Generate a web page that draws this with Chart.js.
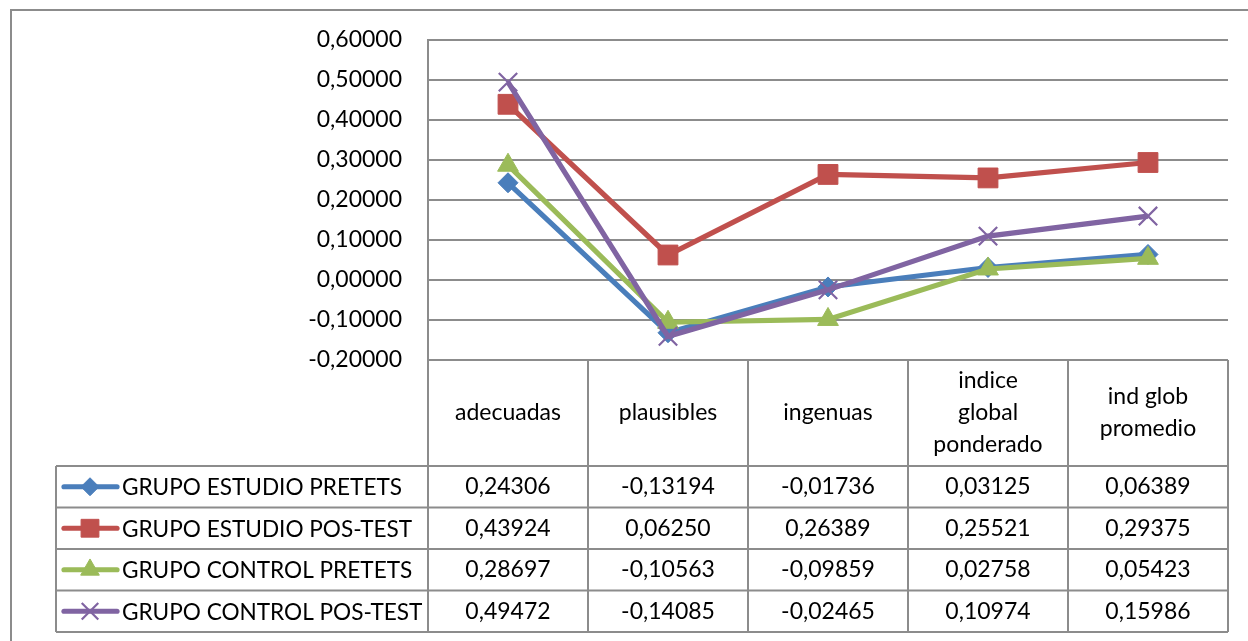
<!DOCTYPE html>
<html>
<head>
<meta charset="utf-8">
<script src="https://cdn.jsdelivr.net/npm/chart.js@4.4.1/dist/chart.umd.min.js"></script>
<style>
  html, body { margin: 0; padding: 0; background: #ffffff; }
  #wrap { width: 1248px; height: 641px; }
</style>
</head>
<body>
<div id="wrap"><canvas id="chart" width="1248" height="641"></canvas></div>
<script>
// Categories (multi-line header labels are arrays of lines)
const categories = [
  'adecuadas',
  'plausibles',
  'ingenuas',
  ['indice', 'global', 'ponderado'],
  ['ind glob', 'promedio']
];

const seriesNames = [
  'GRUPO ESTUDIO PRETETS',
  'GRUPO ESTUDIO POS-TEST',
  'GRUPO CONTROL PRETETS',
  'GRUPO CONTROL POS-TEST'
];

const estudioPretest  = [0.24306, -0.13194, -0.01736, 0.03125, 0.06389];
const estudioPostest  = [0.43924,  0.06250,  0.26389, 0.25521, 0.29375];
const controlPretest  = [0.28697, -0.10563, -0.09859, 0.02758, 0.05423];
const controlPostest  = [0.49472, -0.14085, -0.02465, 0.10974, 0.15986];

const yMin = -0.2;
const yMax = 0.6;
const yStep = 0.1;

const FONT_FAMILY = 'Lato, "Open Sans", sans-serif';
const FONT_SIZE = 23;
const NAME_FONT_SIZE = 22.6;
const GRID_COLOR = '#8c8c8c';
const LINE_WIDTH = 5.2;

function fmt(v) {
  if (Math.abs(v) < 1e-9) v = 0;
  return v.toFixed(5).replace('.', ',');
}

const seriesStyles = [
  { color: '#4a7ebb', pointStyle: 'rectRot',  radius: 10, border: 1,   order: 3 },
  { color: '#c0504d', pointStyle: 'rect',     radius: 14, border: 1,   order: 2 },
  { color: '#9bbb59', pointStyle: 'triangle', radius: 12, border: 1,   order: 1 },
  { color: '#8064a2', pointStyle: 'crossRot', radius: 13, border: 2.2, order: 0 }
];
const seriesValues = [estudioPretest, estudioPostest, controlPretest, controlPostest];

const datasets = seriesValues.map((vals, i) => ({
  label: seriesNames[i],
  data: vals,
  borderColor: seriesStyles[i].color,
  backgroundColor: seriesStyles[i].color,
  borderWidth: LINE_WIDTH,
  pointStyle: seriesStyles[i].pointStyle,
  pointRadius: seriesStyles[i].radius,
  pointHoverRadius: seriesStyles[i].radius,
  pointBorderWidth: seriesStyles[i].border,
  pointBackgroundColor: seriesStyles[i].color,
  pointBorderColor: seriesStyles[i].color,
  tension: 0,
  order: seriesStyles[i].order
}));

// Marker used in the table's legend keys
function drawMarker(ctx, style, x, y, scale) {
  ctx.save();
  ctx.fillStyle = style.color;
  ctx.strokeStyle = style.color;
  ctx.lineWidth = style.border;
  if (Chart.helpers && Chart.helpers.drawPoint) {
    Chart.helpers.drawPoint(ctx, {
      pointStyle: style.pointStyle,
      radius: style.radius * scale,
      rotation: 0,
      borderWidth: style.border
    }, x, y);
  }
  ctx.restore();
}

// Frame around the whole chart
const framePlugin = {
  id: 'frame',
  beforeDraw(chart) {
    const ctx = chart.ctx;
    ctx.save();
    ctx.strokeStyle = '#8c8c8c';
    ctx.lineWidth = 2;
    ctx.strokeRect(11, 10, chart.width + 20, chart.height + 20);
    ctx.restore();
  }
};

// Data table under the plot
const tablePlugin = {
  id: 'dataTable',
  afterDraw(chart) {
    const ctx = chart.ctx;
    const xs = chart.scales.x;
    const area = chart.chartArea;
    const n = categories.length;
    const colW = xs.getPixelForValue(1) - xs.getPixelForValue(0);
    const right = area.right;
    const top = area.bottom;
    const headerH = 106;
    const rowH = 41.5;
    const tableLeft = 56;
    const bottom = top + headerH + rowH * seriesNames.length;

    ctx.save();
    ctx.strokeStyle = GRID_COLOR;
    ctx.lineWidth = 2;

    // vertical column lines
    for (let i = 0; i <= n; i++) {
      const x = i < n ? xs.getPixelForValue(i) - colW / 2 : xs.getPixelForValue(n - 1) + colW / 2;
      ctx.beginPath();
      ctx.moveTo(x, top);
      ctx.lineTo(x, bottom);
      ctx.stroke();
    }
    // left edge of series rows
    ctx.beginPath();
    ctx.moveTo(tableLeft, top + headerH);
    ctx.lineTo(tableLeft, bottom);
    ctx.stroke();
    // horizontal row lines
    for (let r = 0; r <= seriesNames.length; r++) {
      const y = top + headerH + r * rowH;
      ctx.beginPath();
      ctx.moveTo(tableLeft, y);
      ctx.lineTo(right, y);
      ctx.stroke();
    }

    ctx.fillStyle = '#000000';
    ctx.font = FONT_SIZE + 'px ' + FONT_FAMILY;
    ctx.textBaseline = 'middle';
    ctx.textAlign = 'center';

    // header labels
    const lineH = 32;
    categories.forEach((cat, i) => {
      const lines = Array.isArray(cat) ? cat : [cat];
      const cx = xs.getPixelForValue(i);
      const cy = top + headerH / 2;
      lines.forEach((ln, k) => {
        ctx.fillText(ln, cx, cy + (k - (lines.length - 1) / 2) * lineH);
      });
    });

    // series rows
    seriesValues.forEach((vals, r) => {
      const cy = top + headerH + r * rowH + rowH / 2;
      ctx.font = FONT_SIZE + 'px ' + FONT_FAMILY;
      vals.forEach((v, i) => {
        ctx.textAlign = 'center';
        ctx.fillText(fmt(v), xs.getPixelForValue(i), cy);
      });
      // legend key
      const st = seriesStyles[r];
      ctx.save();
      ctx.strokeStyle = st.color;
      ctx.lineWidth = LINE_WIDTH;
      ctx.lineCap = 'round';
      ctx.beginPath();
      ctx.moveTo(tableLeft + 8, cy);
      ctx.lineTo(tableLeft + 61, cy);
      ctx.stroke();
      ctx.restore();
      drawMarker(ctx, st, tableLeft + 34, cy, 0.9);
      ctx.textAlign = 'left';
      ctx.font = NAME_FONT_SIZE + 'px ' + FONT_FAMILY;
      ctx.fillText(seriesNames[r], tableLeft + 66, cy + 1);
    });
    ctx.restore();
  }
};

new Chart(document.getElementById('chart'), {
  type: 'line',
  data: { labels: categories, datasets },
  options: {
    responsive: false,
    animation: false,
    events: [],
    layout: { padding: { top: 40, right: 20, bottom: 281, left: 0 } },
    plugins: {
      legend: { display: false },
      tooltip: { enabled: false }
    },
    scales: {
      x: {
        type: 'category',
        offset: true,
        display: false
      },
      y: {
        min: yMin,
        max: yMax,
        afterFit(scale) { scale.width = 428; },
        border: { display: true, color: GRID_COLOR, width: 2 },
        grid: { color: GRID_COLOR, lineWidth: 2, drawTicks: false },
        ticks: {
          stepSize: yStep,
          padding: 26,
          color: '#000000',
          font: { family: FONT_FAMILY, size: FONT_SIZE },
          callback: (v) => fmt(v)
        }
      }
    }
  },
  plugins: [framePlugin, tablePlugin]
});
</script>
</body>
</html>
